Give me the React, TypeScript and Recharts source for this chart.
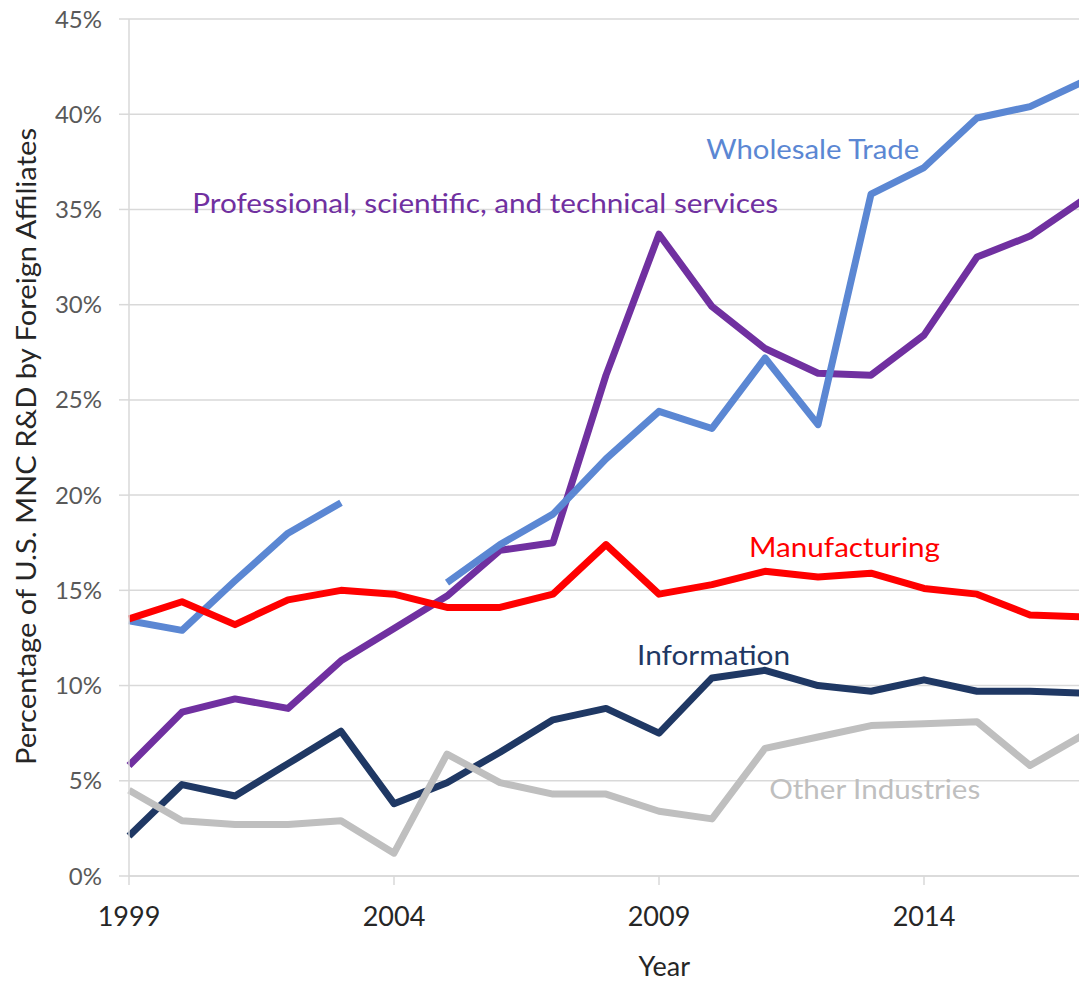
import React from 'react';
import { CartesianGrid, Label, Line, LineChart, ReferenceDot, XAxis, YAxis } from 'recharts';

const years = [1999, 2000, 2001, 2002, 2003, 2004, 2005, 2006, 2007, 2008, 2009, 2010, 2011, 2012, 2013, 2014, 2015, 2016, 2017];

// percent of U.S. MNC R&D done by foreign affiliates, by industry
const wholesale = [13.4, 12.9, 15.5, 18.0, 19.6, null, 15.4, 17.4, 19.0, 21.9, 24.4, 23.5, 27.2, 23.7, 35.8, 37.2, 39.8, 40.4, 41.7];
const professional = [5.8, 8.6, 9.3, 8.8, 11.3, 13.0, 14.7, 17.1, 17.5, 26.3, 33.7, 29.9, 27.7, 26.4, 26.3, 28.4, 32.5, 33.6, 35.5];
const manufacturing = [13.5, 14.4, 13.2, 14.5, 15.0, 14.8, 14.1, 14.1, 14.8, 17.4, 14.8, 15.3, 16.0, 15.7, 15.9, 15.1, 14.8, 13.7, 13.6];
const information = [2.1, 4.8, 4.2, 5.9, 7.6, 3.8, 4.9, 6.5, 8.2, 8.8, 7.5, 10.4, 10.8, 10.0, 9.7, 10.3, 9.7, 9.7, 9.6];
const otherIndustries = [4.5, 2.9, 2.7, 2.7, 2.9, 1.2, 6.4, 4.9, 4.3, 4.3, 3.4, 3.0, 6.7, 7.3, 7.9, 8.0, 8.1, 5.8, 7.4];

const xTicks = [1999, 2004, 2009, 2014];
const yTicks = [0, 5, 10, 15, 20, 25, 30, 35, 40, 45];

// series drawn back to front
const series = [
  { key: 'information', color: '#1F3864' },
  { key: 'otherIndustries', color: '#BFBFBF' },
  { key: 'professional', color: '#7030A0' },
  { key: 'wholesale', color: '#5B87D3' },
  { key: 'manufacturing', color: '#FF0000' },
];

// inline labels: text, centre year, centre value, colour, drawn width
const labelText = ['Wholesale Trade', 'Professional, scientific, and technical services', 'Manufacturing', 'Information', 'Other Industries'];
const labelYear = [2011.9, 2005.72, 2012.5, 2010.03, 2013.07];
const labelValue = [38.1, 35.3, 17.2, 11.55, 4.5];
const labelColor = ['#5B87D3', '#7030A0', '#FF0000', '#1F3864', '#BFBFBF'];
const labelWidth = [213, 586, 191, 153, 211];

const data = years.map((year, i) => ({
  year,
  wholesale: wholesale[i],
  professional: professional[i],
  manufacturing: manufacturing[i],
  information: information[i],
  otherIndustries: otherIndustries[i],
}));

const FONT = 'Lato, "Open Sans", sans-serif';
const GRID = '#D9D9D9';

function InlineLabel({ viewBox, text, color, width }: any) {
  const cx = viewBox.x + (viewBox.width ?? 0) / 2;
  const cy = viewBox.y + (viewBox.height ?? 0) / 2;
  return (
    <text
      x={cx - width / 2}
      y={cy + 9}
      fontSize={27}
      fill={color}
      fontFamily={FONT}
      textLength={width}
      lengthAdjust="spacingAndGlyphs"
    >
      {text}
    </text>
  );
}

export default function App() {
  return (
    <div style={{ position: 'fixed', left: 0, top: 0, width: 1079, height: 982, overflow: 'hidden', background: '#fff' }}>
      <LineChart
        width={1090}
        height={982}
        data={data}
        margin={{ top: 19, right: 7, bottom: 0, left: 0 }}
        style={{ fontFamily: FONT }}
      >
        <CartesianGrid vertical={false} stroke={GRID} strokeWidth={1.5} />
        <XAxis
          dataKey="year"
          type="number"
          domain={[1999, 2017]}
          ticks={xTicks}
          height={106}
          axisLine={{ stroke: GRID, strokeWidth: 1.5 }}
          tickLine={{ stroke: GRID, strokeWidth: 1.5 }}
          tickSize={9}
          tickMargin={22}
          tick={{ fontSize: 27, fill: '#262626', fontFamily: FONT }}
        >
          <Label
            content={({ viewBox }: any) => (
              <text
                x={viewBox.x + ((2009.1 - 1999) / 18) * viewBox.width}
                y={viewBox.y + 100}
                textAnchor="middle"
                fontSize={27}
                fill="#262626"
                fontFamily={FONT}
              >
                Year
              </text>
            )}
          />
        </XAxis>
        <YAxis
          domain={[0, 45]}
          ticks={yTicks}
          width={129}
          axisLine={{ stroke: GRID, strokeWidth: 1.5 }}
          tickLine={{ stroke: GRID, strokeWidth: 1.5 }}
          tickSize={10}
          tickMargin={17}
          tickFormatter={(v: number) => `${v}%`}
          tick={{ fontSize: 24, fill: '#595959', fontFamily: FONT }}
        >
          <Label
            content={({ viewBox }: any) => (
              <text
                transform={`translate(36,${viewBox.y + viewBox.height / 2 - 1}) rotate(-90)`}
                textAnchor="middle"
                fontSize={26}
                fill="#262626"
                fontFamily={FONT}
                textLength={637}
                lengthAdjust="spacingAndGlyphs"
              >
                Percentage of U.S. MNC R&amp;D by Foreign Affiliates
              </text>
            )}
          />
        </YAxis>
        {series.map(s => (
          <Line
            key={s.key}
            dataKey={s.key}
            type="linear"
            stroke={s.color}
            strokeWidth={7}
            strokeLinejoin="round"
            dot={false}
            activeDot={false}
            connectNulls={false}
            isAnimationActive={false}
          />
        ))}
        {labelText.map((text, i) => (
          <ReferenceDot
            key={text}
            x={labelYear[i]}
            y={labelValue[i]}
            r={0}
            fill="none"
            stroke="none"
            label={<InlineLabel text={text} color={labelColor[i]} width={labelWidth[i]} />}
          />
        ))}
      </LineChart>
    </div>
  );
}
